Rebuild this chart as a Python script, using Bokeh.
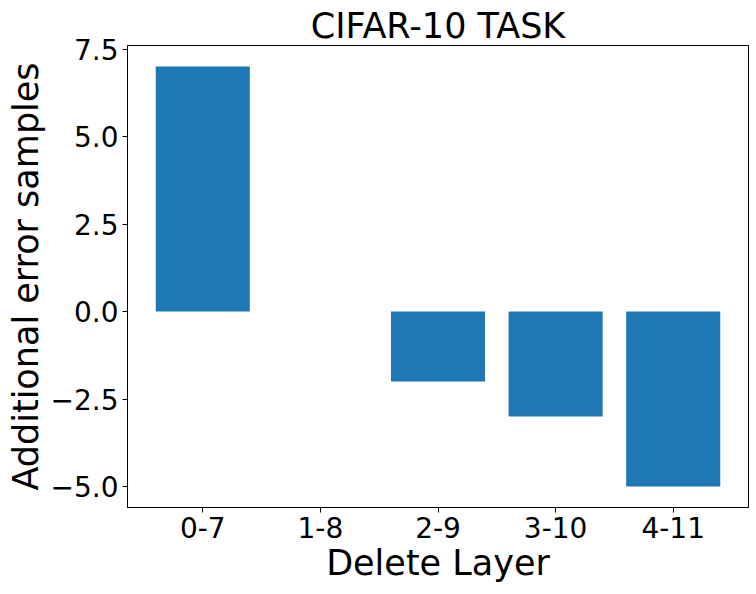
from bokeh.plotting import figure
from bokeh.models import Range1d, FixedTicker, CustomJSTickFormatter
from bokeh.embed import file_html
from bokeh.resources import INLINE

title_text = "CIFAR-10 TASK"
x_label = "Delete Layer"
y_label = "Additional error samples"
categories = ["0-7", "1-8", "2-9", "3-10", "4-11"]
values = [7, 0, -2, -3, -5]
y_ticks = [-5.0, -2.5, 0.0, 2.5, 5.0, 7.5]

positions = list(range(len(categories)))
vmin, vmax = min(values + [0]), max(values + [0])
pad_y = 0.05 * (vmax - vmin)
bar_w = 0.8
span_x = (len(categories) - 1) + bar_w
pad_x = 0.05 * span_x
x0 = -bar_w / 2 - pad_x
x1 = len(categories) - 1 + bar_w / 2 + pad_x

FONT = "DejaVu Sans"

p = figure(width=756, height=594, output_backend="svg", toolbar_location=None,
           x_range=Range1d(x0, x1),
           y_range=Range1d(vmin - pad_y, vmax + pad_y),
           min_border_left=127, min_border_right=8, min_border_top=45, min_border_bottom=87)

p.vbar(x=positions, top=values, bottom=0, width=bar_w, fill_color="#1f77b4", line_color=None)

p.title.text = title_text
p.title.text_font = FONT
p.title.text_font_size = "35px"
p.title.text_font_style = "normal"
p.title.align = "center"
p.title.text_color = "black"
p.title.standoff = 0

p.xgrid.visible = False
p.ygrid.visible = False
p.outline_line_color = "black"
p.outline_line_alpha = 1
p.outline_line_width = 1

p.xaxis.ticker = FixedTicker(ticks=positions)
p.xaxis.major_label_overrides = {i: c for i, c in zip(positions, categories)}
p.yaxis.ticker = FixedTicker(ticks=y_ticks)
p.yaxis.formatter = CustomJSTickFormatter(code="return tick.toFixed(1).replace('-', '\u2212');")

for ax in (p.xaxis[0], p.yaxis[0]):
    ax.axis_line_color = "black"
    ax.major_tick_line_color = "black"
    ax.major_tick_out = 5
    ax.major_tick_in = 0
    ax.minor_tick_line_color = None
    ax.major_label_text_font = FONT
    ax.major_label_text_font_size = "28px"
    ax.major_label_text_color = "black"
    ax.axis_label_text_font = FONT
    ax.axis_label_text_font_size = "35px"
    ax.axis_label_text_font_style = "normal"
    ax.axis_label_text_color = "black"
    ax.major_label_standoff = 4

p.xaxis.axis_label = x_label
p.yaxis.axis_label = y_label
p.xaxis.axis_label_standoff = 2
p.yaxis.axis_label_standoff = 2

open("out.html", "w").write(file_html(p, INLINE))
